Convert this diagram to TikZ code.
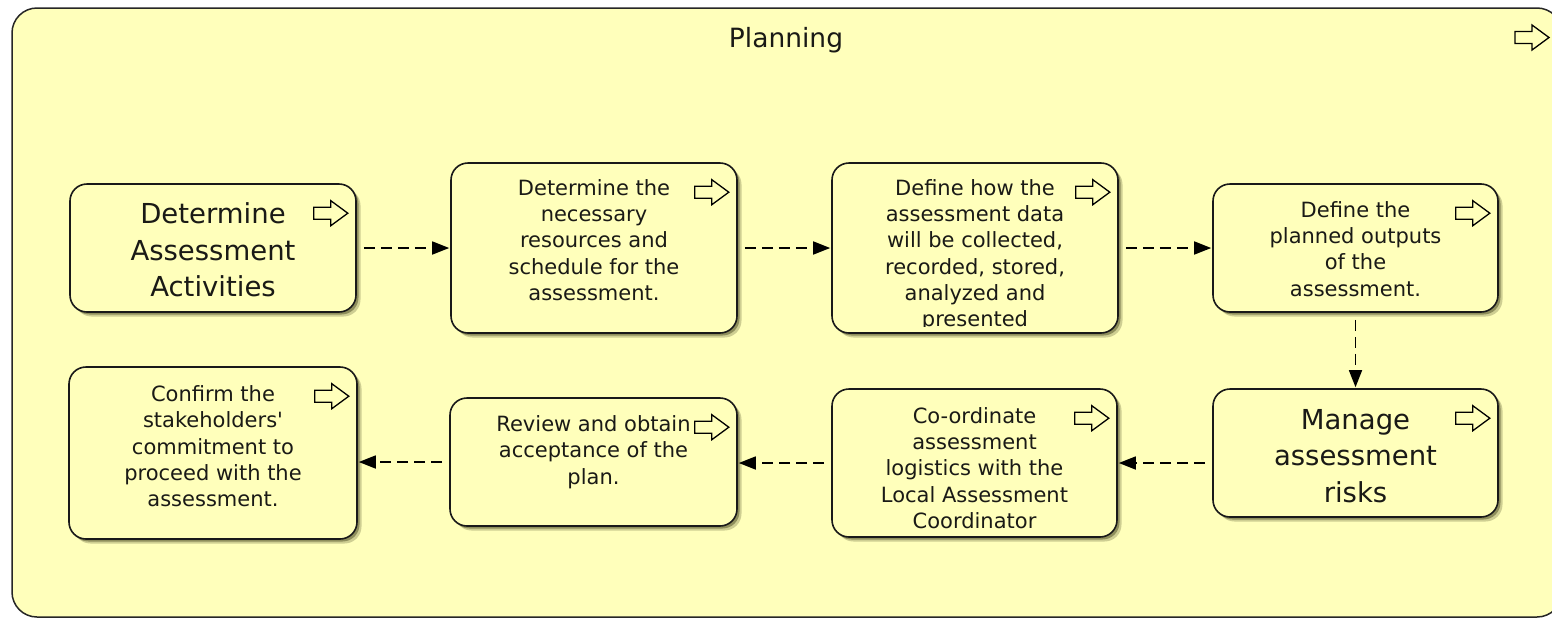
\documentclass[tikz,border=0pt]{standalone}
\usepackage{fontspec}
\setmainfont{DejaVu Sans}
\newfontfamily\aposfont{DejaVu Sans}[Ligatures=TeXOff]
\usetikzlibrary{arrows.meta,shadows,calc}

\definecolor{padyellow}{RGB}{255,255,187}
\definecolor{inkgray}{RGB}{26,26,22}
\definecolor{shadeolive}{RGB}{80,80,40}

\tikzset{
  container/.style={draw=black!85, line width=1.5pt, fill=padyellow,
    rounded corners=25pt, inner sep=0pt},
  stepbox/.style={draw=black!90, line width=1.6pt, fill=padyellow,
    rounded corners=17pt, inner sep=0pt,
    drop shadow={shadow xshift=4.5pt, shadow yshift=-4.5pt, fill=shadeolive, opacity=0.28},
    drop shadow={shadow xshift=2.5pt, shadow yshift=-2.5pt, fill=shadeolive, opacity=0.5}},
  smalltxt/.style={font=\fontsize{21}{26.3}\selectfont, align=center,
    inner sep=0pt, text=inkgray, anchor=north},
  bigtxt/.style={font=\fontsize{27.5}{36.5}\selectfont, align=center,
    inner sep=0pt, text=inkgray, anchor=north},
  titletxt/.style={font=\fontsize{26.5}{30}\selectfont, inner sep=0pt,
    text=inkgray, anchor=base},
  conn/.style={draw=black, line width=1.6pt, dash pattern=on 11pt off 6pt,
    -{Triangle[length=17pt,width=13pt]}, shorten <=7pt, shorten >=1pt},
  goicon/.pic={
    \draw[line width=1.3pt, fill=padyellow, line join=miter, solid]
      (-17,-6) -- (0,-6) -- (0,-12.5) -- (17,0) -- (0,12.5) -- (0,6)
      -- (-17,6) -- cycle;
  }
}

\begin{document}
\begin{tikzpicture}[x=1pt, y=-1pt]
  \useasboundingbox (0,0) rectangle (1552,619);
  \fill[white] (0,0) rectangle (1552,619);

  % enclosing swimlane
  \node[container, minimum width=1550pt, minimum height=609pt] (plan) at (787,312.5) {};
  \node[titletxt] (title) at (786,47) {Planning};
  \path (1532,37.5) pic {goicon};

  % step boxes
  \node[stepbox, minimum width=286pt, minimum height=128pt] (b1) at (213,248) {};
  \node[stepbox, minimum width=286pt, minimum height=170pt] (b2) at (594,248) {};
  \node[stepbox, minimum width=286pt, minimum height=170pt] (b3) at (975,248) {};
  \node[stepbox, minimum width=285pt, minimum height=128pt] (b4) at (1355.5,248) {};
  \node[stepbox, minimum width=285pt, minimum height=128pt] (b5) at (1355.5,453) {};
  \node[stepbox, minimum width=285pt, minimum height=148pt] (b6) at (974.5,463) {};
  \node[stepbox, minimum width=287pt, minimum height=128pt] (b7) at (593.5,462) {};
  \node[stepbox, minimum width=288pt, minimum height=172pt] (b8) at (213,453) {};

  % box texts
  \node[bigtxt] (t1) at (213,202.5) {Determine\\Assessment\\Activities};
  \node[smalltxt] (t2) at (594,179) {Determine the\\necessary\\resources and\\schedule for the\\assessment.};
  \begin{scope}
    \clip (b3.north west) rectangle ([yshift=7pt]b3.south east);
    \node[smalltxt] (t3) at (975,179) {Define how the\\assessment data\\will be collected,\\recorded, stored,\\analyzed and\\presented};
  \end{scope}
  \node[smalltxt] (t4) at (1355.5,201) {Define the\\planned outputs\\of the\\assessment.};
  \node[bigtxt] (t5) at (1355.5,409) {Manage\\assessment\\risks};
  \node[smalltxt] (t6) at (974.5,407) {Co-ordinate\\assessment\\logistics with the\\Local Assessment\\Coordinator};
  \node[smalltxt] (t7) at (593.5,415.5) {Review and obtain\\acceptance of the\\plan.};
  \node[smalltxt] (t8) at (213,385.5) {Confirm the\\stakeholders{\aposfont'}\\commitment to\\proceed with the\\assessment.};

  % expand markers
  \foreach \b in {b1,b2,b3,b4,b5,b6,b7,b8}
    \path (\b.north east) ++(-26,30) pic {goicon};

  % flow
  \draw[conn] (b1) -- (b2);
  \draw[conn] (b2) -- (b3);
  \draw[conn] (b3) -- (b4);
  \draw[conn] (b4) -- (b5);
  \draw[conn] (b5.west |- b6.east) -- (b6.east);
  \draw[conn] (b6.west) -- (b6.west -| b7.east);
  \draw[conn] (b7.west) -- (b7.west -| b8.east);
\end{tikzpicture}
\end{document}
